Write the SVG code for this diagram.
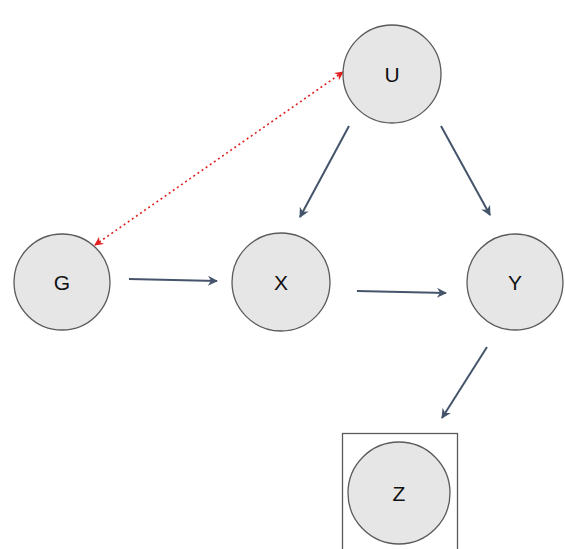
<svg xmlns="http://www.w3.org/2000/svg" width="565" height="549" viewBox="0 0 565 549">
<style>
.node circle{fill:#e6e6e6;stroke:#5a5a5a;stroke-width:1.3}
.node text{font-family:"Liberation Sans",Arial,sans-serif;font-size:21px;fill:#111;text-anchor:middle;dominant-baseline:central}
.edge{stroke:#44546a;stroke-width:2;fill:none;marker-end:url(#ah)}
.conf{stroke:#e0201e;stroke-width:1.6;stroke-dasharray:2 3;fill:none;marker-start:url(#rs);marker-end:url(#re)}
</style>
<defs>
<marker id="ah" viewBox="0 0 10 10" refX="9" refY="5" markerWidth="11" markerHeight="10" orient="auto" markerUnits="userSpaceOnUse">
<path d="M0,0 L10,5 L0,10 L3,5 z" fill="#44546a"/>
</marker>
<marker id="re" viewBox="0 0 10 10" refX="9" refY="5" markerWidth="10" markerHeight="9" orient="auto" markerUnits="userSpaceOnUse">
<path d="M0,0 L10,5 L0,10 L3,5 z" fill="#e0201e"/>
</marker>
<marker id="rs" viewBox="0 0 10 10" refX="1" refY="5" markerWidth="10" markerHeight="9" orient="auto" markerUnits="userSpaceOnUse">
<path d="M10,0 L0,5 L10,10 L7,5 z" fill="#e0201e"/>
</marker>
</defs>
<rect width="565" height="549" fill="#fff"/>
<g id="connectors">
<path class="edge" d="M129,279 L217,281"/>
<path class="edge" d="M357,291 L446,293"/>
<path class="edge" d="M349,126 L300,217"/>
<path class="edge" d="M441,126 L490,215"/>
<path class="edge" d="M487,347 L442,418"/>
<path class="conf" d="M95,245 L343,72"/>
</g>
<g id="U" class="node"><circle cx="392" cy="74" r="49"/><text x="392" y="74">U</text></g>
<g id="G" class="node"><circle cx="62" cy="282" r="48"/><text x="62" y="282">G</text></g>
<g id="X" class="node"><circle cx="281" cy="282" r="49"/><text x="281" y="282">X</text></g>
<g id="Y" class="node"><circle cx="515" cy="282" r="48"/><text x="515" y="282">Y</text></g>
<g id="Z" class="node"><rect x="342.5" y="433.5" width="115" height="120" fill="none" stroke="#5a5a5a" stroke-width="1.3"/><circle cx="399" cy="493" r="51"/><text x="399" y="493">Z</text></g>
</svg>
